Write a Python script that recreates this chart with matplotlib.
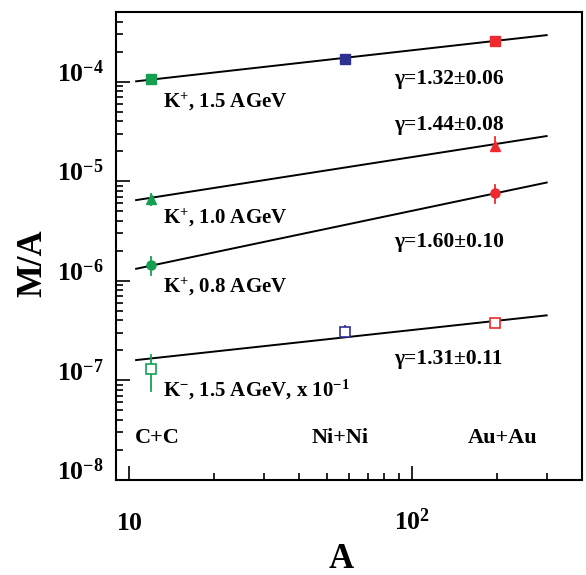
import matplotlib
matplotlib.use("Agg")
import matplotlib.pyplot as plt
from matplotlib.ticker import LogLocator, NullFormatter, FixedLocator

plt.rcParams['font.family'] = ['Liberation Serif', 'DejaVu Serif']
plt.rcParams['font.weight'] = 'bold'
plt.rcParams['mathtext.fontset'] = 'custom'
plt.rcParams['mathtext.rm'] = 'Liberation Serif:bold'
plt.rcParams['mathtext.bf'] = 'Liberation Serif:bold'
plt.rcParams['mathtext.it'] = 'Liberation Serif:bold:italic'
plt.rcParams['mathtext.default'] = 'rm'

# ---- data ----
systems = ['C+C', 'Ni+Ni', 'Au+Au']
A_vals = [12, 58, 197]
sys_colors = ['#14a050', '#2e3192', '#ee2a2f']

# K+, 1.5 AGeV (filled squares), all three systems
kp15_y = [1.06e-4, 1.67e-4, 2.57e-4]
kp15_lo = [1.02e-4, 1.60e-4, 2.50e-4]
kp15_hi = [1.10e-4, 1.74e-4, 2.64e-4]
# K+, 1.0 AGeV (triangles), C+C and Au+Au
kp10_A = [12, 197]
kp10_y = [6.6e-6, 2.28e-5]
kp10_lo = [5.75e-6, 2.0e-5]
kp10_hi = [7.36e-6, 2.77e-5]
# K+, 0.8 AGeV (circles), C+C and Au+Au
kp08_A = [12, 197]
kp08_y = [1.435e-6, 7.54e-6]
kp08_lo = [1.15e-6, 5.98e-6]
kp08_hi = [1.73e-6, 9.1e-6]
# K-, 1.5 AGeV x 0.1 (open squares)
km15_y = [1.31e-7, 3.09e-7, 3.78e-7]
km15_lo = [7.9e-8, 2.98e-7, 3.65e-7]
km15_hi = [1.82e-7, 3.5e-7, 3.92e-7]

# power-law fits (end points)
fit_A = [10.6, 300]
fit_kp15 = [1.007e-4, 2.93e-4]
fit_kp10 = [6.46e-6, 2.84e-5]
fit_kp08 = [1.32e-6, 9.7e-6]
fit_km15 = [1.6e-7, 4.5e-7]

gamma_labels = ['γ=1.32±0.06', 'γ=1.44±0.08', 'γ=1.60±0.10', 'γ=1.31±0.11']
gamma_y = [9.5e-5, 3.24e-5, 2.2e-6, 1.47e-7]

fig = plt.figure(figsize=(5.86, 5.75), dpi=100)
ax = fig.add_axes([116/586, 1-480/575, 466/586, 468/575])
ax.set_xscale('log')
ax.set_yscale('log')
ax.set_xlim(9, 400)
ax.set_ylim(1e-8, 5e-4)

# fit lines
for fy in [fit_kp15, fit_kp10, fit_kp08, fit_km15]:
    ax.plot(fit_A, fy, color='black', lw=1.4, zorder=2)

def draw(Axs, ys, lo, hi, cols, marker, filled, ms):
    for a, y, l, h, c in zip(Axs, ys, lo, hi, cols):
        ax.plot([a, a], [l, h], color=c, lw=1.3, zorder=3)
        if filled:
            ax.plot([a], [y], marker=marker, ms=ms, color=c, mec=c, ls='none', zorder=4)
        else:
            ax.plot([a], [y], marker=marker, ms=ms, mfc='white', mec=c, mew=1.2, ls='none', zorder=4)

draw(A_vals, kp15_y, kp15_lo, kp15_hi, sys_colors, 's', True, 6.5)
draw(kp10_A, kp10_y, kp10_lo, kp10_hi, [sys_colors[0], sys_colors[2]], '^', True, 6.5)
draw(kp08_A, kp08_y, kp08_lo, kp08_hi, [sys_colors[0], sys_colors[2]], 'o', True, 6.5)
draw(A_vals, km15_y, km15_lo, km15_hi, sys_colors, 's', False, 7.5)

# text labels
fs = 15
ax.text(13.2, 5.5e-5, 'K$^{+}$, 1.5 AGeV', fontsize=fs, va='baseline', ha='left')
ax.text(13.2, 3.74e-6, 'K$^{+}$, 1.0 AGeV', fontsize=fs, va='baseline', ha='left')
ax.text(13.2, 7.6e-7, 'K$^{+}$, 0.8 AGeV', fontsize=fs, va='baseline', ha='left')
ax.text(13.2, 6.97e-8, 'K$^{-}$, 1.5 AGeV, x 10$^{-1}$', fontsize=fs, va='baseline', ha='left')

gx = 86.6
for gy, gl in zip(gamma_y, gamma_labels):
    ax.text(gx, gy, gl, fontsize=15.5, va='baseline', ha='left')

for sx, sl in zip([10.5, 44.4, 158], systems):
    ax.text(sx, 2.33e-8, sl, fontsize=16, va='baseline', ha='left')

# axes styling
for s in ax.spines.values():
    s.set_linewidth(1.5)
ax.tick_params(which='both', direction='in', top=False, right=False, width=1.2)
ax.tick_params(which='major', length=10)
ax.tick_params(which='minor', length=5)
ax.yaxis.set_major_locator(FixedLocator([1e-8, 1e-7, 1e-6, 1e-5, 1e-4]))
ax.set_yticklabels([r'$10^{-8}$', r'$10^{-7}$', r'$10^{-6}$', r'$10^{-5}$', r'$10^{-4}$'])
ax.yaxis.set_minor_locator(LogLocator(base=10, subs=range(2, 10), numticks=20))
ax.yaxis.set_minor_formatter(NullFormatter())
ax.xaxis.set_major_locator(FixedLocator([10, 100]))
ax.set_xticklabels([r'$10$', r'$10^{2}$'])
ax.xaxis.set_minor_locator(LogLocator(base=10, subs=range(2, 10), numticks=20))
ax.xaxis.set_minor_formatter(NullFormatter())
ax.tick_params(axis='both', which='major', labelsize=18.5, pad=9)
for lab in ax.get_yticklabels():
    lab.set_va('baseline')
for lab in ax.get_xticklabels():
    lab.set_va('baseline')
ax.tick_params(axis='x', which='major', pad=36)

ax.set_ylabel('M/A', fontsize=25, fontweight='bold')
ax.yaxis.set_label_coords(-0.144, 0.464)
ax.set_xlabel('A', fontsize=25, fontweight='bold')
ax.xaxis.set_label_coords(0.483, -0.134)

fig.savefig('out.png', dpi=100)
